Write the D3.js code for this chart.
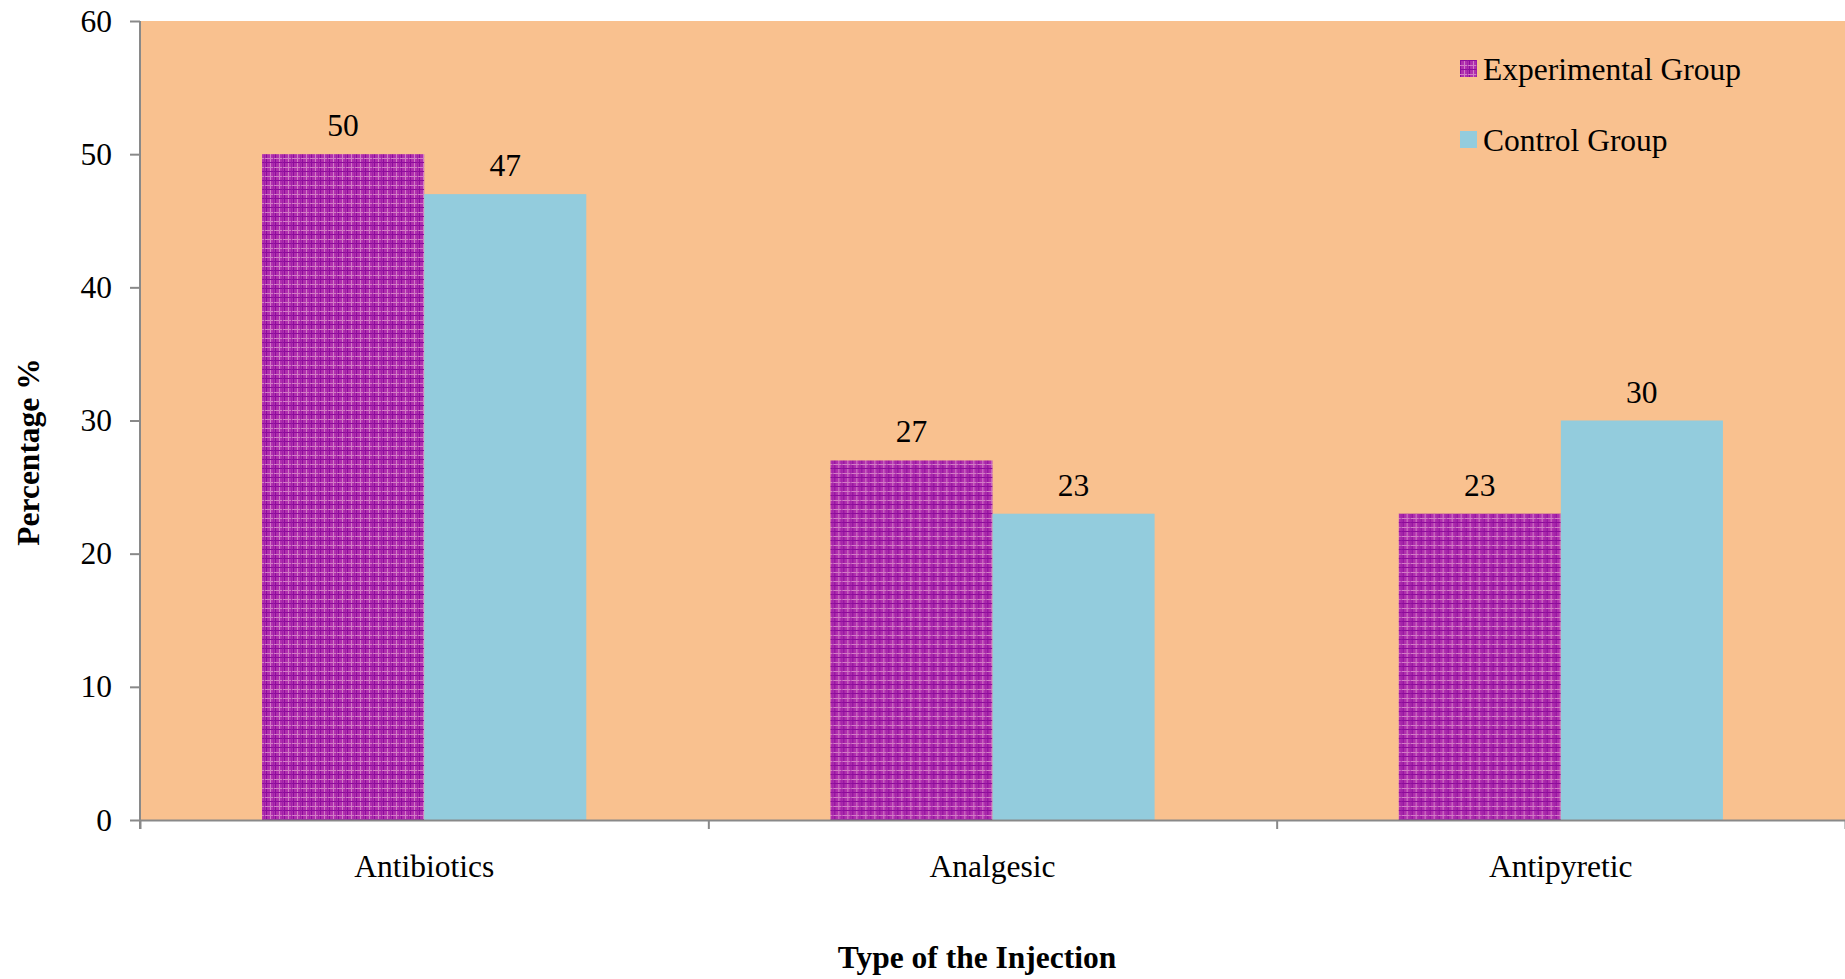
<!DOCTYPE html>
<html>
<head>
<meta charset="utf-8">
<script src="https://cdn.jsdelivr.net/npm/d3@7"></script>
<style>
  html, body { margin: 0; padding: 0; background: #fff; }
  svg { display: block; }
  svg text { font-family: "Liberation Serif", "Times New Roman", serif; }
</style>
</head>
<body>
<svg id="chart" width="1845" height="979"></svg>
<script>
// Injection types and the share of each group (%)
const categories = ["Antibiotics", "Analgesic", "Antipyretic"];
const seriesNames = ["Experimental Group", "Control Group"];
const experimental = [50, 27, 23];
const control = [47, 23, 30];
const yTicks = [0, 10, 20, 30, 40, 50, 60];

const seriesValues = [experimental, control];
const rows = categories.map((c, i) => ({
  category: c,
  values: seriesNames.map((s, j) => ({ series: s, value: seriesValues[j][i] }))
}));

const svg = d3.select("#chart");
const margin = { left: 140, right: 0, top: 21, bottom: 159 };
const W = 1845, H = 979;
const x0 = d3.scaleBand().domain(categories).range([margin.left, W - margin.right]).padding(0);
const x1 = d3.scaleBand().domain(seriesNames).range([0, x0.bandwidth()]).paddingInner(0).paddingOuter(0.753);
const y = d3.scaleLinear().domain([0, 60]).range([H - margin.bottom, margin.top]);

const axisColor = "#898989";
const fontSize = 31.5;

// Plaid fill for the experimental bars
const defs = svg.append("defs");
const pat = defs.append("pattern").attr("id", "plaid")
  .attr("patternUnits", "userSpaceOnUse").attr("width", 9).attr("height", 9);
pat.append("rect").attr("width", 9).attr("height", 9).attr("fill", "#B02FAE");
pat.append("rect").attr("x", 0).attr("width", 1).attr("height", 9).attr("fill", "#8C0C9C");
pat.append("rect").attr("x", 4).attr("width", 1).attr("height", 9).attr("fill", "#D27CC6");
pat.append("rect").attr("y", 0).attr("width", 9).attr("height", 1).attr("fill", "#8C0C9C");
pat.append("rect").attr("y", 5).attr("width", 9).attr("height", 1).attr("fill", "#D27CC6");
pat.append("rect").attr("x", 7).attr("width", 1).attr("height", 9).attr("fill", "#9A1AA6").attr("opacity", 0.7);

const colors = { "Experimental Group": "url(#plaid)", "Control Group": "#93CCDD" };

// Plot background
svg.append("rect")
  .attr("x", margin.left).attr("y", margin.top)
  .attr("width", W - margin.right - margin.left)
  .attr("height", y(0) - margin.top)
  .attr("fill", "#F9C18F");

// Bars
const groups = svg.append("g").selectAll("g").data(rows).join("g")
  .attr("transform", d => `translate(${x0(d.category)},0)`);

groups.selectAll("rect").data(d => d.values).join("rect")
  .attr("x", d => x1(d.series))
  .attr("y", d => y(d.value))
  .attr("width", x1.bandwidth())
  .attr("height", d => y(0) - y(d.value))
  .attr("fill", d => colors[d.series]);

// Value labels
groups.selectAll("text").data(d => d.values).join("text")
  .attr("x", d => x1(d.series) + x1.bandwidth() / 2)
  .attr("y", d => y(d.value) - 18)
  .attr("text-anchor", "middle")
  .attr("font-size", fontSize)
  .attr("fill", "#000")
  .text(d => d.value);

// Y axis
const yAxis = svg.append("g")
  .attr("transform", `translate(${margin.left},0)`)
  .call(d3.axisLeft(y).tickValues(yTicks).tickSize(10).tickPadding(18).tickSizeOuter(0));
yAxis.attr("font-family", null);
yAxis.select(".domain").attr("stroke", axisColor).attr("stroke-width", 2)
  .attr("d", `M0,${margin.top}V${y(0) + 9}`);
yAxis.selectAll(".tick line").attr("stroke", axisColor).attr("stroke-width", 2);
yAxis.selectAll(".tick text").attr("font-size", fontSize).attr("fill", "#000");

// X axis: ticks on category boundaries
const boundaries = categories.map(c => x0(c)).concat([W - margin.right]);
const xAxisScale = d3.scaleLinear().domain([margin.left, W]).range([margin.left, W]);
const xAxis = svg.append("g")
  .attr("transform", `translate(0,${y(0)})`)
  .call(d3.axisBottom(xAxisScale).tickValues(boundaries).tickSize(9).tickFormat("").tickSizeOuter(0));
xAxis.select(".domain").attr("stroke", axisColor).attr("stroke-width", 2);
xAxis.selectAll(".tick line").attr("stroke", axisColor).attr("stroke-width", 2);

// Category labels
svg.append("g").selectAll("text").data(categories).join("text")
  .attr("x", d => x0(d) + x0.bandwidth() / 2)
  .attr("y", 877)
  .attr("text-anchor", "middle")
  .attr("font-size", fontSize)
  .attr("fill", "#000")
  .text(d => d);

// Axis titles
svg.append("text")
  .attr("x", 977).attr("y", 968)
  .attr("text-anchor", "middle")
  .attr("font-size", fontSize).attr("font-weight", "bold")
  .text("Type of the Injection");

svg.append("text")
  .attr("transform", "translate(39,452) rotate(-90)")
  .attr("text-anchor", "middle")
  .attr("font-size", fontSize).attr("font-weight", "bold")
  .text("Percentage %");

// Legend
const legend = svg.append("g").selectAll("g").data(seriesNames).join("g")
  .attr("transform", (d, i) => `translate(1460,${60 + i * 71})`);
legend.append("rect").attr("width", 17).attr("height", 17).attr("fill", d => colors[d]);
legend.append("text").attr("x", 23).attr("y", 20)
  .attr("font-size", fontSize).attr("fill", "#000").text(d => d);
</script>
</body>
</html>
